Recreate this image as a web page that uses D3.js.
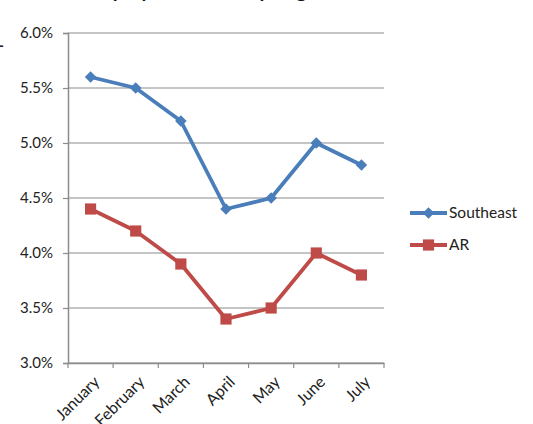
<!DOCTYPE html>
<html><head><meta charset="utf-8">
<script src="https://cdn.jsdelivr.net/npm/d3@7"></script>
<style>body{margin:0;background:#fff}svg{display:block}</style>
</head><body>
<svg id="c" width="533" height="424"></svg>
<script>
const months = ["January","February","March","April","May","June","July"];
const southeast = [5.6, 5.5, 5.2, 4.4, 4.5, 5.0, 4.8];
const ar = [4.4, 4.2, 3.9, 3.4, 3.5, 4.0, 3.8];
const yTicks = [3.0, 3.5, 4.0, 4.5, 5.0, 5.5, 6.0];
const seriesNames = ["Southeast", "AR"];
const titleText = "Unemployment Rate by Region, 2011";

(function () {
const svg = d3.select("#c");
const font = "Lato, 'Liberation Sans', sans-serif";
const pL = 68, pR = 384, pT = 33, pB = 363;
const x = d3.scaleBand().domain(months).range([pL, pR]);
const y = d3.scaleLinear().domain([3.0, 6.0]).range([pB, pT]);

// cut-off title
svg.append("text").attr("x", 225).attr("y", -3.5).attr("text-anchor", "middle")
  .attr("font-family", font).attr("font-weight", "bold").attr("font-size", 20)
  .attr("fill", "#111").text(titleText);
// cut-off fragment at left edge
svg.append("text").attr("x", -2).attr("y", 51).attr("font-family", font)
  .attr("font-weight", "bold").attr("font-size", 16).attr("fill", "#222").text("-");

// gridlines
svg.append("g").selectAll("line").data(yTicks).join("line")
  .attr("x1", pL).attr("x2", pR)
  .attr("y1", d => y(d)).attr("y2", d => y(d))
  .attr("stroke", "#8c8c8c").attr("stroke-width", 1.2);

// y axis
const ya = svg.append("g").attr("transform", `translate(${pL},0)`)
  .call(d3.axisLeft(y).tickValues(yTicks).tickFormat(d => d.toFixed(1) + "%").tickSize(5).tickPadding(10));
ya.select(".domain").attr("stroke", "#8c8c8c").attr("stroke-width", 1.5);
ya.selectAll(".tick line").attr("stroke", "#8c8c8c").attr("stroke-width", 1.2);
ya.selectAll("text").attr("font-family", font).attr("font-size", 15).attr("fill", "#222");

// x axis
const xa = svg.append("g").attr("transform", `translate(0,${pB})`)
  .call(d3.axisBottom(x).tickSize(0).tickSizeOuter(0));
xa.select(".domain").attr("stroke", "#8c8c8c").attr("stroke-width", 1.5);
xa.selectAll(".tick line").remove();
xa.selectAll(".tick text").remove();
const bounds = months.map(m => x(m)).concat([pR]);
xa.selectAll("line.b").data(bounds).join("line").attr("class", "b")
  .attr("x1", d => d).attr("x2", d => d).attr("y1", 0).attr("y2", 5)
  .attr("stroke", "#8c8c8c").attr("stroke-width", 1.2);
xa.selectAll("text.m").data(months).join("text").attr("class", "m")
  .attr("transform", d => `translate(${x(d) + x.bandwidth() / 2 + 6},${16}) rotate(-45)`)
  .attr("text-anchor", "end").attr("dy", "0.35em")
  .attr("font-family", font).attr("font-size", 16).attr("fill", "#222").text(d => d);

const colors = ["#4a7ebb", "#be4b48"];
const data = [southeast, ar];
const line = d3.line().x((d, i) => x(months[i]) + x.bandwidth() / 2).y(d => y(d));
const diamond = d3.symbol().type(d3.symbolDiamond2).size(85);
const square = d3.symbol().type(d3.symbolSquare).size(125);

data.forEach((vals, k) => {
  svg.append("path").datum(vals).attr("d", line).attr("fill", "none")
    .attr("stroke", colors[k]).attr("stroke-width", 3.8).attr("stroke-linejoin", "round");
  svg.append("g").selectAll("path").data(vals).join("path")
    .attr("transform", (d, i) => `translate(${x(months[i]) + x.bandwidth() / 2},${y(d)})`)
    .attr("d", k === 0 ? diamond : square).attr("fill", colors[k]);
});

// legend
const lg = svg.append("g");
seriesNames.forEach((name, k) => {
  const ly = 213 + k * 32;
  lg.append("line").attr("x1", 410).attr("x2", 447).attr("y1", ly).attr("y2", ly)
    .attr("stroke", colors[k]).attr("stroke-width", 3.8);
  lg.append("path").attr("transform", `translate(428.5,${ly})`)
    .attr("d", k === 0 ? diamond : square).attr("fill", colors[k]);
  lg.append("text").attr("x", 449).attr("y", ly).attr("dy", "0.35em")
    .attr("font-family", font).attr("font-size", 15.5).attr("fill", "#222").text(name);
});
})();
</script>
</body></html>
